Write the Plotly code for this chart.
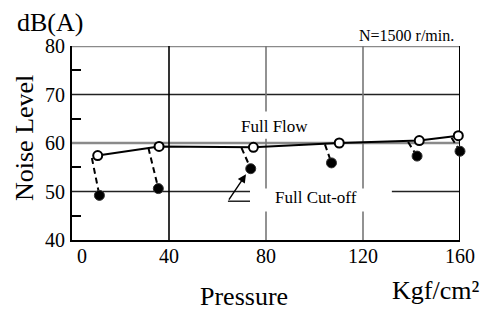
import plotly.graph_objects as go

# ---- data ----
flow_x = [10.6, 35.9, 74.8, 110.2, 143.2, 159.3]
flow_y = [57.4, 59.3, 59.1, 60.0, 60.5, 61.5]
cut_x = [11.3, 35.6, 73.7, 107.0, 142.3, 160.0]
cut_y = [49.2, 50.6, 54.7, 55.9, 57.3, 58.3]
dash_top_x = [8.2, 31.5, 69.9, 104.3, 138.6, 156.5]
dash_top_y = [56.9, 59.0, 59.0, 59.7, 60.2, 61.1]

x_ticks = [40, 80, 120, 160]
x_zero_label = "0"
y_ticks = [40, 50, 60, 70, 80]
h_grid_dark = [70, 50]
h_grid_gray = [80, 60]
v_grid_dark = [40, 160]
v_grid_gray = [80, 120]

FONT = "Liberation Serif"
# page has an 8px body margin, so the figure is 8px smaller than the window
W, H = 480, 303
L, T = 64, 38
PW, PH = 388, 194
R, B = W - L - PW, H - T - PH
PL, PB = 72, 240  # plot-area left / bottom in window pixels


def px(xp):
    return (xp - PL) / PW


def py(yp):
    return (PB - yp) / PH


fig = go.Figure()

# dashed connectors
dx, dy = [], []
for x0, y0, x1, y1 in zip(dash_top_x, dash_top_y, cut_x, cut_y):
    dx += [x0, x1, None]
    dy += [y0, y1, None]
fig.add_trace(go.Scatter(x=dx, y=dy, mode="lines",
                         line=dict(color="black", width=2, dash="6px,4px"),
                         hoverinfo="skip", cliponaxis=False))
# full flow line
fig.add_trace(go.Scatter(x=flow_x, y=flow_y, mode="lines+markers",
                         line=dict(color="black", width=2),
                         marker=dict(symbol="circle", size=9, color="white",
                                     line=dict(color="black", width=2)),
                         cliponaxis=False))
# full cut-off points
fig.add_trace(go.Scatter(x=cut_x, y=cut_y, mode="markers",
                         marker=dict(symbol="circle", size=10, color="black",
                                     line=dict(color="#333", width=1)),
                         cliponaxis=False))

shapes = []
for v in h_grid_gray:
    shapes.append(dict(type="line", xref="x", yref="y", x0=0, x1=160, y0=v, y1=v,
                       line=dict(color="#8a8a8a", width=2.5), layer="below"))
for v in h_grid_dark:
    shapes.append(dict(type="line", xref="x", yref="y", x0=0, x1=160, y0=v, y1=v,
                       line=dict(color="#222", width=1.6), layer="below"))
for v in v_grid_gray:
    shapes.append(dict(type="line", xref="x", yref="y", x0=v, x1=v, y0=40, y1=80,
                       line=dict(color="#777", width=1.6), layer="below"))
for v in v_grid_dark:
    shapes.append(dict(type="line", xref="x", yref="y", x0=v, x1=v, y0=40, y1=80,
                       line=dict(color="black", width=1.6 if v < 160 else 2), layer="below"))
# white label boxes that interrupt the grid
shapes.append(dict(type="rect", xref="x", yref="y", x0=73.4, x1=131.9, y0=45.9, y1=50.6,
                   fillcolor="white", line=dict(width=0), layer="below"))
shapes.append(dict(type="rect", xref="x", yref="y", x0=68.0, x1=99.0, y0=60.9, y1=66.5,
                   fillcolor="white", line=dict(width=0), layer="below"))
# leader horizontal for Full Cut-off
shapes.append(dict(type="line", xref="x", yref="y", x0=64.3, x1=73.4, y0=48.0, y1=48.0,
                   line=dict(color="black", width=1.3)))

annotations = [
    dict(x=72.2, y=53.9, ax=64.3, ay=48.0, xref="x", yref="y", axref="x", ayref="y",
         text="", showarrow=True, arrowhead=2, arrowsize=1.2, arrowwidth=1.4,
         arrowcolor="black", standoff=2),
    dict(x=83.3, y=63.4, xref="x", yref="y", text="Full Flow", showarrow=False,
         font=dict(family=FONT, size=17, color="black")),
    dict(x=100.6, y=48.8, xref="x", yref="y", text="Full Cut-off", showarrow=False,
         font=dict(family=FONT, size=17, color="black")),
    # the "0" tick label sits slightly right of the axis in the reference
    dict(x=px(82), y=py(256), xref="paper", yref="paper", text=x_zero_label,
         showarrow=False, xanchor="center", yanchor="middle",
         font=dict(family=FONT, size=20, color="black")),
    dict(x=px(15), y=py(22), xref="paper", yref="paper", text="dB(A)", showarrow=False,
         xanchor="left", yanchor="middle", font=dict(family=FONT, size=26, color="black")),
    dict(x=px(456), y=py(36), xref="paper", yref="paper", text="N=1500 r/min.",
         showarrow=False, xanchor="right", yanchor="middle",
         font=dict(family=FONT, size=16, color="black")),
    dict(x=px(24), y=py(138), xref="paper", yref="paper", text="Noise Level",
         showarrow=False, textangle=-90, xanchor="center", yanchor="middle",
         font=dict(family=FONT, size=26, color="black")),
    dict(x=px(244), y=py(296), xref="paper", yref="paper", text="Pressure",
         showarrow=False, xanchor="center", yanchor="middle",
         font=dict(family=FONT, size=26, color="black")),
    dict(x=px(435), y=py(290), xref="paper", yref="paper", text="Kgf/cm²",
         showarrow=False, xanchor="center", yanchor="middle",
         font=dict(family=FONT, size=26, color="black")),
]

fig.update_layout(
    width=W, height=H,
    margin=dict(l=L, r=R, t=T, b=B, pad=0, autoexpand=False),
    paper_bgcolor="white", plot_bgcolor="white",
    showlegend=False,
    shapes=shapes, annotations=annotations,
    font=dict(family=FONT, size=20, color="black"),
    xaxis=dict(range=[0, 160], tickvals=x_ticks,
               showgrid=False, zeroline=False, showline=True, linecolor="black",
               linewidth=2, ticks="", ticklabelstandoff=-3, automargin=False,
               tickfont=dict(family=FONT, size=20, color="black")),
    yaxis=dict(range=[40, 80], tickvals=y_ticks, showgrid=False, zeroline=False,
               showline=True, linecolor="black", linewidth=2, ticks="",
               ticklabelstandoff=1, automargin=False,
               tickfont=dict(family=FONT, size=20, color="black"),
               minor=dict(tickvals=[45, 55, 65, 75], ticks="inside", ticklen=9,
                          tickwidth=1.5, tickcolor="black", showgrid=False)),
)

fig.write_html("out.html")
